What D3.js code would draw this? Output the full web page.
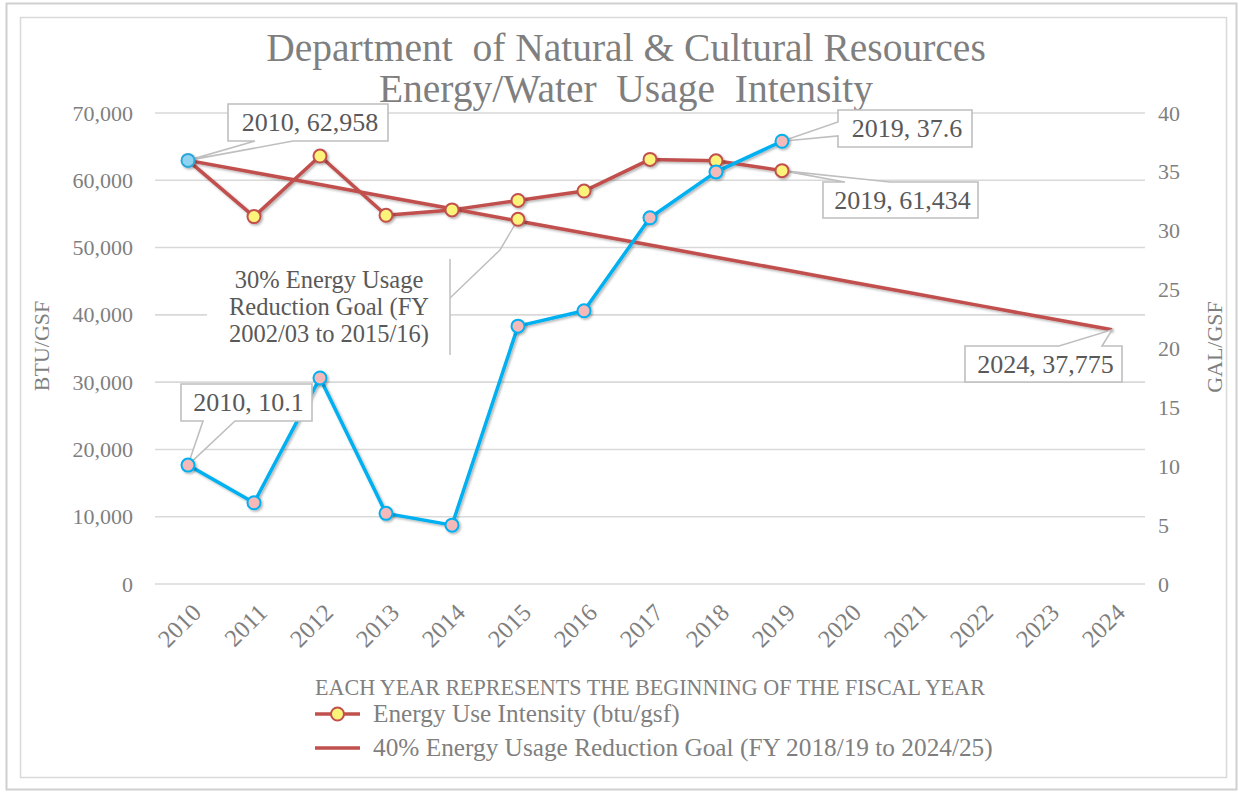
<!DOCTYPE html>
<html><head><meta charset="utf-8">
<script src="https://cdn.jsdelivr.net/npm/d3@7"></script>
<style>
html,body{margin:0;padding:0;background:#fff;}
svg text{font-family:"Liberation Serif","Times New Roman",serif;}
</style></head><body>
<svg id="chart" width="1239" height="793"></svg>
<script>
// ---------- data ----------
const years = [2010,2011,2012,2013,2014,2015,2016,2017,2018,2019,2020,2021,2022,2023,2024];
const energyYears = [2010,2011,2012,2013,2014,2015,2016,2017,2018,2019];
const energyValues = [62958,54600,63600,54800,55600,57000,58400,63100,62900,61434];   // btu/gsf
const waterValues = [10.1,6.9,17.5,6.0,5.0,21.9,23.2,31.1,35.0,37.6];                  // gal/gsf
const goal40Values = [62958,61160,59360,57560,55760,53960,52170,50370,48570,46770,44970,43170,41370,39570,37775];
const goal30Years = [2015];
const goal30Values = [54200];
const leftTicks = [0,10000,20000,30000,40000,50000,60000,70000];
const rightTicks = [0,5,10,15,20,25,30,35,40];
const titleLines = ["Department  of Natural & Cultural Resources","Energy/Water  Usage  Intensity"];
const xAxisTitle = "EACH YEAR REPRESENTS THE BEGINNING OF THE FISCAL YEAR";
const leftAxisTitle = "BTU/GSF";
const rightAxisTitle = "GAL/GSF";
const goal30Text = ["30% Energy Usage","Reduction Goal (FY","2002/03 to 2015/16)"];
const legendLabels = ["Energy Use Intensity (btu/gsf)","40% Energy Usage Reduction Goal (FY 2018/19 to 2024/25)"];

// ---------- setup ----------
const svg = d3.select("#chart");
const RED = "#C0504D", BLUE = "#00B0F0", YEL = "#FBF37A", PINK = "#F6B9B9";
const GRID = "#d9d9d9", AX = "#7f7f7f", LBL = "#595959", BOX = "#bfbfbf";
const fmt = d3.format(",");

const defs = svg.append("defs");
defs.append("filter").attr("id","sh").attr("x","-50%").attr("y","-50%").attr("width","200%").attr("height","200%")
  .append("feDropShadow").attr("dx",1.5).attr("dy",1.5).attr("stdDeviation",1.2)
  .attr("flood-color","#000").attr("flood-opacity",0.3);

// frames
svg.append("rect").attr("x",6.5).attr("y",3.5).attr("width",1230).attr("height",786)
  .attr("fill","none").attr("stroke","#d0d0d0").attr("stroke-width",2);
svg.append("rect").attr("x",20.5).attr("y",17.5).attr("width",1206).attr("height",760)
  .attr("fill","#fff").attr("stroke","#d9d9d9").attr("stroke-width",1.5);

const x = d3.scalePoint().domain(years).range([188,1112]);
const yL = d3.scaleLinear().domain([0,70000]).range([584,113]);
const yR = d3.scaleLinear().domain([0,40]).range([584,113]);
const plotL = 155, plotR = 1145;

// gridlines
svg.append("g").selectAll("line").data(leftTicks).join("line")
  .attr("x1",plotL).attr("x2",plotR).attr("y1",d=>yL(d)).attr("y2",d=>yL(d))
  .attr("stroke",GRID).attr("stroke-width",1.6);

// title
svg.append("g").selectAll("text").data(titleLines).join("text")
  .attr("x",626).attr("y",(d,i)=>61+i*41).attr("text-anchor","middle")
  .style("white-space","pre").attr("font-size",39.5).attr("fill",AX).text(d=>d);

// axes
const gl = svg.append("g").attr("transform","translate(133,0)")
  .call(d3.axisLeft(yL).tickValues(leftTicks).tickFormat(fmt).tickSize(0).tickPadding(0));
const gr = svg.append("g").attr("transform","translate(1158,0)")
  .call(d3.axisRight(yR).tickValues(rightTicks).tickSize(0).tickPadding(0));
const gb = svg.append("g").attr("transform","translate(0,584)")
  .call(d3.axisBottom(x).tickFormat(d3.format("d")).tickSize(0));
[gl,gr,gb].forEach(g=>{
  g.select(".domain").remove();
  g.selectAll("text").attr("font-size",22).attr("fill",AX)
   .attr("font-family",'"Liberation Serif","Times New Roman",serif');
});
gb.selectAll("text").attr("font-size",24.5).attr("x",0).attr("y",0).attr("dy","0.35em")
  .attr("text-anchor","end").attr("transform","translate(8,24) rotate(-45)");

// axis titles
svg.append("text").attr("transform","translate(49,346) rotate(-90)").attr("text-anchor","middle")
  .attr("font-size",22).attr("fill",AX).text(leftAxisTitle);
svg.append("text").attr("transform","translate(1222,347) rotate(-90)").attr("text-anchor","middle")
  .attr("font-size",22).attr("fill",AX).text(rightAxisTitle);
svg.append("text").attr("x",650).attr("y",695).attr("text-anchor","middle")
  .attr("font-size",23).attr("textLength",670).attr("lengthAdjust","spacingAndGlyphs")
  .attr("fill",AX).text(xAxisTitle);

// lines
const goalPts = years.map((yr,i)=>[x(yr), yL(goal40Values[i])]);
const energyPts = energyYears.map((yr,i)=>[x(yr), yL(energyValues[i])]);
const waterPts = energyYears.map((yr,i)=>[x(yr), yR(waterValues[i])]);
const line = d3.line();
const lines = svg.append("g").attr("filter","url(#sh)");
lines.append("path").attr("d",line(goalPts)).attr("fill","none").attr("stroke",RED).attr("stroke-width",3.5).attr("stroke-linejoin","round");
lines.append("path").attr("d",line(energyPts)).attr("fill","none").attr("stroke",RED).attr("stroke-width",3.5).attr("stroke-linejoin","round");
lines.append("path").attr("d",line(waterPts)).attr("fill","none").attr("stroke",BLUE).attr("stroke-width",3.5).attr("stroke-linejoin","round");

// 30% goal label (white box w/ vertical rule and leader)
svg.append("rect").attr("x",207).attr("y",258).attr("width",243).attr("height",97).attr("fill","#fff");
svg.append("line").attr("x1",450).attr("x2",450).attr("y1",259).attr("y2",355).attr("stroke",BOX).attr("stroke-width",1.5);
svg.append("path").attr("d",d3.line()([[450,298],[500,250],[x(goal30Years[0]),yL(goal30Values[0])]]))
  .attr("fill","none").attr("stroke",BOX).attr("stroke-width",1.5);
svg.append("g").selectAll("text").data(goal30Text).join("text")
  .attr("x",329).attr("y",(d,i)=>288+i*27).attr("text-anchor","middle")
  .attr("font-size",24.5).attr("fill",LBL).text(d=>d);

// callouts
function callout(box, side, a, b, apex, txt){
  const {x:bx,y:by,w,h} = box; let d;
  if(side==="bottom") d=`M${bx},${by}H${bx+w}V${by+h}H${b}L${apex[0]},${apex[1]}L${a},${by+h}H${bx}Z`;
  else if(side==="top") d=`M${bx},${by}H${a}L${apex[0]},${apex[1]}L${b},${by}H${bx+w}V${by+h}H${bx}Z`;
  else d=`M${bx},${by}H${bx+w}V${by+h}H${bx}V${b}L${apex[0]},${apex[1]}L${bx},${a}Z`;
  svg.append("path").attr("d",d).attr("fill","#fff").attr("stroke",BOX).attr("stroke-width",1.6).attr("stroke-linejoin","miter");
  svg.append("text").attr("x",bx+w/2+2).attr("y",by+h/2+8.5).attr("text-anchor","middle")
    .attr("font-size",26).attr("fill",LBL).text(txt);
}
callout({x:228,y:104,w:160,h:37},"bottom",255,293,[x(2010),yL(energyValues[0])],`${energyYears[0]}, ${fmt(energyValues[0])}`);
callout({x:838,y:110,w:134,h:37},"left",122,136,[x(2019),yR(waterValues[9])],`${energyYears[9]}, ${waterValues[9]}`);
callout({x:823,y:182,w:155,h:36},"top",845,890,[x(2019),yL(energyValues[9])],`${energyYears[9]}, ${fmt(energyValues[9])}`);
callout({x:965,y:346,w:157,h:36},"top",1059,1102,[x(2024),yL(goal40Values[14])],`${years[14]}, ${fmt(goal40Values[14])}`);
callout({x:181,y:384,w:131,h:37},"bottom",203,235,[x(2010),yR(waterValues[0])],`${energyYears[0]}, ${waterValues[0]}`);

// markers
const mk = svg.append("g").attr("filter","url(#sh)");
mk.selectAll(".e").data(energyPts.slice(1)).join("circle").attr("cx",d=>d[0]).attr("cy",d=>d[1]).attr("r",6.5)
  .attr("fill",YEL).attr("stroke",RED).attr("stroke-width",2);
mk.selectAll(".g30").data(goal30Years.map((yr,i)=>[x(yr),yL(goal30Values[i])])).join("circle")
  .attr("cx",d=>d[0]).attr("cy",d=>d[1]).attr("r",6.5).attr("fill",YEL).attr("stroke",RED).attr("stroke-width",2);
mk.selectAll(".w").data(waterPts).join("circle").attr("cx",d=>d[0]).attr("cy",d=>d[1]).attr("r",6.5)
  .attr("fill",PINK).attr("stroke",BLUE).attr("stroke-width",2);
mk.append("circle").attr("cx",energyPts[0][0]).attr("cy",energyPts[0][1]).attr("r",6.5)
  .attr("fill","#8FD3F2").attr("stroke","#2FA6D6").attr("stroke-width",2);

// legend
const lg = svg.append("g");
[0,1].forEach(i=>{
  const ly = 714 + i*34;
  lg.append("line").attr("x1",315).attr("x2",360).attr("y1",ly).attr("y2",ly).attr("stroke",RED).attr("stroke-width",3.5);
  if(i===0) lg.append("circle").attr("cx",337.5).attr("cy",ly).attr("r",6.5).attr("fill",YEL).attr("stroke",RED).attr("stroke-width",2);
  lg.append("text").attr("x",373).attr("y",ly+8).attr("font-size",25.3).attr("fill",AX).text(legendLabels[i]);
});
</script>
</body></html>
